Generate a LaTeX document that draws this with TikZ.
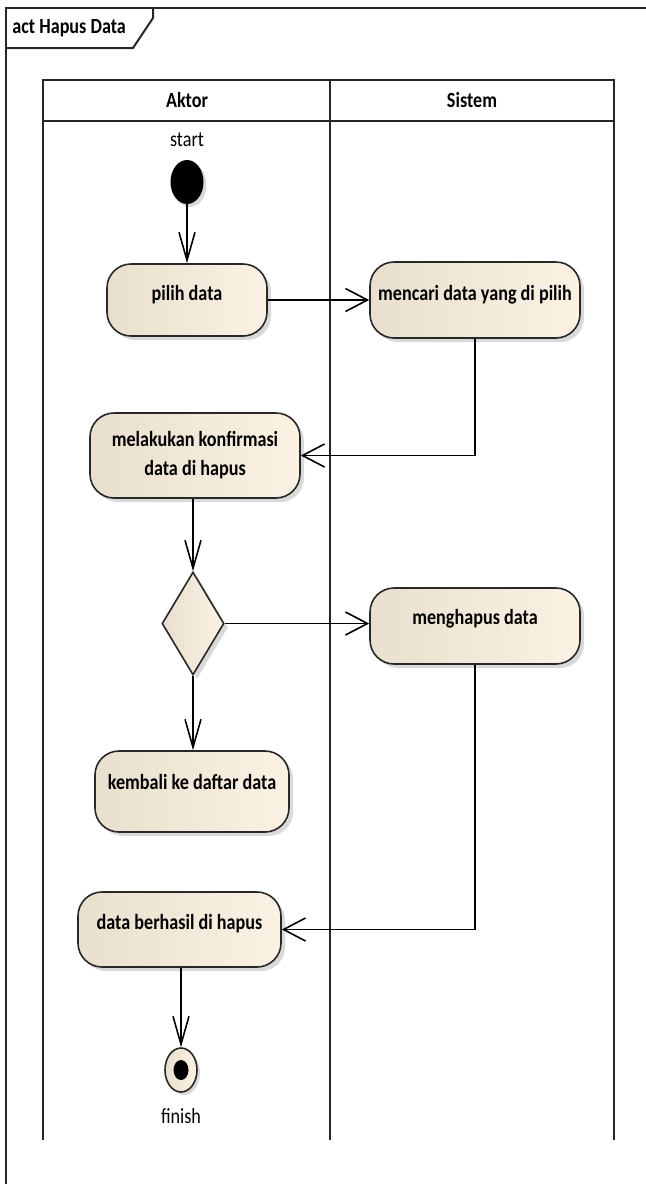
\documentclass[tikz,border=0pt]{standalone}
\usepackage{fontspec}
\setmainfont{Carlito}[FakeStretch=0.84]
\usetikzlibrary{arrows.meta,shapes.geometric,shadows}
\definecolor{boxL}{RGB}{233,223,206}
\definecolor{boxR}{RGB}{251,242,228}
\definecolor{edge}{RGB}{40,40,40}
\newcommand{\uptext}[2]{\raisebox{#1}[\height][\depth]{#2}}
\tikzset{
  act/.style={draw=edge, line width=0.8pt, rounded corners=12pt,
    left color=boxL, right color=boxR,
    drop shadow={shadow xshift=2pt, shadow yshift=-2pt, opacity=0.3},
    inner sep=0pt, align=center},
  decision/.style={diamond, draw=edge, line width=0.8pt,
    left color=boxL, right color=boxR,
    drop shadow={shadow xshift=2pt, shadow yshift=-2pt, opacity=0.3},
    inner sep=0pt, minimum width=31pt, minimum height=51.5pt},
  hflow/.style={draw=black, line width=0.8pt,
    -{Straight Barb[length=11pt,width=11.5pt,line width=0.8pt]}},
  vflow/.style={draw=black, line width=0.8pt,
    -{Straight Barb[length=14pt,width=8pt,line width=0.8pt]}},
  lane/.style={draw=black!85, line width=1pt},
  frame/.style={draw=black!85, line width=1pt},
  lbl/.style={font=\mdseries\fontsize{10.8}{13}\selectfont, inner sep=0pt},
}
\begin{document}
\begin{tikzpicture}[x=0.5pt, y=-0.5pt, font=\bfseries\fontsize{10.8}{13}\selectfont]
\useasboundingbox (0,0) rectangle (646,1184);
% outer frame
\draw[frame] (6,1190) -- (6,8) -- (650,8);
\draw[frame] (6,48) -- (133,48) -- (153,18) -- (153,8);
\node[anchor=west, inner sep=0pt] (title) at (12,28) {act Hapus Data};
% swimlanes
\draw[lane] (43,1140) -- (43,80) -- (614,80) -- (614,1140);
\draw[lane] (330,80) -- (330,1140);
\draw[lane] (43,121) -- (614,121);
\node (hAktor) at (187,100) {Aktor};
\node (hSistem) at (472,100) {Sistem};
% nodes
\node[lbl] (startlbl) at (187,140) {start};
\node[ellipse, fill=black, inner sep=0pt, minimum width=16.5pt, minimum height=22pt,
  drop shadow={shadow xshift=1.5pt, shadow yshift=-1.5pt, opacity=0.3}] (start) at (187,182) {};
\node[act, minimum width=80pt, minimum height=36pt] (pilih) at (187,300) {\uptext{2.5pt}{pilih data}};
\node[act, minimum width=105pt, minimum height=38pt] (mencari) at (475,300) {\uptext{2.5pt}{mencari data yang di pilih}};
\node[act, minimum width=105pt, minimum height=42.5pt] (konf) at (195,455.5) {melakukan konfirmasi\\[1.5pt]data di hapus};
\node[decision] (dec) at (193,623.5) {};
\node[act, minimum width=105pt, minimum height=38pt] (hapus) at (475,626) {\uptext{3.5pt}{menghapus data}};
\node[act, minimum width=97pt, minimum height=40.5pt] (kembali) at (192,791.5) {\uptext{4.75pt}{kembali ke daftar data}};
\node[act, minimum width=101.5pt, minimum height=37.5pt] (berhasil) at (179.5,929.5) {\uptext{2.75pt}{data berhasil di hapus}};
\node[ellipse, draw=edge, line width=0.8pt, left color=boxL, right color=boxR, inner sep=0pt,
  minimum width=16pt, minimum height=22pt,
  drop shadow={shadow xshift=1.5pt, shadow yshift=-1.5pt, opacity=0.3}] (final) at (181,1070) {};
\node[ellipse, fill=black, inner sep=0pt, minimum width=7.5pt, minimum height=10pt] (finaldot) at (final.center) {};
\node[lbl] (finishlbl) at (181,1116) {finish};
% connectors
\draw[vflow] (start.south) -- (pilih.north);
\draw[hflow] (pilih.east) -- (mencari.west);
\draw[hflow] (mencari.south) |- (konf.east);
\draw[vflow] (konf.south -| dec.north) -- (dec.north);
\draw[hflow] (dec.east) -- (dec.east -| hapus.west);
\draw[vflow] (dec.south) -- (dec.south |- kembali.north);
\draw[hflow] (hapus.south) |- (berhasil.east);
\draw[vflow] (berhasil.south -| final.north) -- (final.north);
\end{tikzpicture}
\end{document}
